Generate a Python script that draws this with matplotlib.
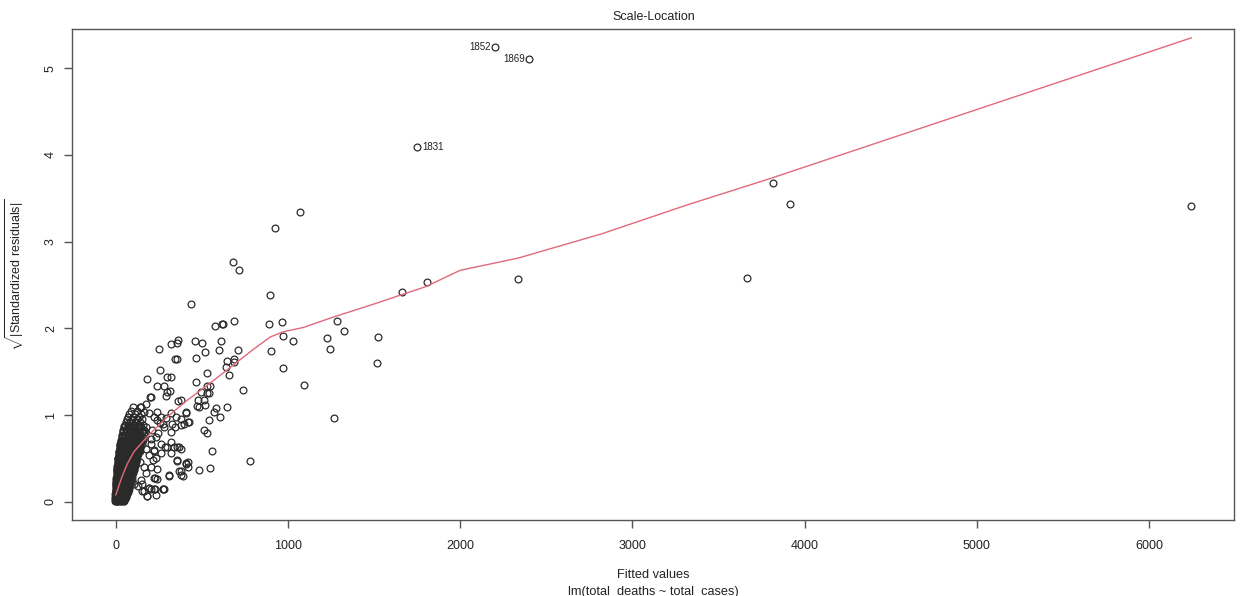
import matplotlib
matplotlib.use('Agg')
import matplotlib.pyplot as plt
import numpy as np

plt.rcParams['font.family'] = ['Liberation Sans', 'DejaVu Sans']
plt.rcParams['mathtext.fontset'] = 'custom'
plt.rcParams['mathtext.rm'] = 'Liberation Sans'
plt.rcParams['mathtext.it'] = 'Liberation Sans:italic'

# ---------------- data ----------------
# labelled outliers
label_ids = ['1852', '1869', '1831']
label_fitted = [2204, 2402, 1751]
label_sqrtres = [5.245, 5.106, 4.096]
label_side = ['left', 'left', 'right']

# scattered points (fitted value, sqrt|standardized residual|)
scatter_fitted = [
    6245, 3815, 3916, 3665, 2333, 1805, 1662,
    1520, 1518, 1326, 1287, 1224, 1243, 1266, 1094, 1069, 925, 967, 971,
    1029, 971, 896, 888, 900, 780,
    682, 717, 437, 574, 616, 622, 684, 250, 318, 353, 362, 457, 501, 613,
    601, 518, 707, 343, 353, 464, 688, 646, 684, 640, 659, 256, 299, 318,
    183, 530, 466, 239, 280, 549, 740, 197, 299, 293, 314, 495, 530, 540,
    530, 476, 511, 360, 376, 584, 646, 484, 568, 607, 410, 418, 376, 543,
    514, 530, 561, 376, 357, 353, 405, 418, 376, 389, 482, 545, 308,
    276, 222, 190, 179, 241, 222, 260, 283, 318, 222, 212, 244, 237, 260,
    276, 318, 347, 328, 395, 406, 520, 472, 376, 424, 341, 318, 280, 256,
    289, 222, 241, 193, 145, 173, 164, 202,
    183, 202, 227, 279, 154, 129, 106, 145, 173, 227, 202, 241, 164, 141,
    308, 366, 380, 410, 420, 353, 193, 222, 260, 231, 173, 202, 299, 337,
    366, 231, 202, 216, 154, 164, 231, 193, 273, 322,
]
scatter_sqrtres = [
    3.41, 3.68, 3.43, 2.58, 2.57, 2.53, 2.42,
    1.90, 1.60, 1.97, 2.09, 1.89, 1.76, 0.97, 1.35, 3.34, 3.16, 2.07, 1.91,
    1.86, 1.54, 2.39, 2.05, 1.74, 0.47,
    2.76, 2.67, 2.28, 2.03, 2.05, 2.05, 2.09, 1.76, 1.82, 1.83, 1.87, 1.86, 1.83, 1.85,
    1.75, 1.73, 1.75, 1.65, 1.65, 1.66, 1.65, 1.62, 1.61, 1.56, 1.46, 1.52, 1.44, 1.44,
    1.42, 1.48, 1.38, 1.34, 1.33, 1.34, 1.29, 1.21, 1.27, 1.22, 1.28, 1.27, 1.26, 1.25,
    1.33, 1.17, 1.17, 1.16, 1.17, 1.08, 1.09, 1.09, 1.03, 0.98, 1.02, 0.92, 0.96, 0.94,
    0.83, 0.79, 0.59, 0.61, 0.63, 0.48, 0.45, 0.46, 0.36, 0.30, 0.37, 0.39, 0.30,
    0.15, 0.15, 0.16, 0.07, 0.26, 0.27, 0.67, 0.63, 0.69, 0.59, 0.83, 0.79, 0.94, 0.98,
    0.90, 1.02, 0.98, 0.90, 0.90, 1.03, 1.12, 1.11, 0.89, 0.92, 0.86, 0.81, 0.86, 0.91,
    0.97, 0.98, 1.04, 1.02, 1.09, 1.13, 1.04, 1.21,
    0.07, 0.15, 0.15, 0.15, 0.13, 0.18, 0.21, 0.25, 0.33, 0.27, 0.40, 0.38, 0.40, 0.46,
    0.31, 0.36, 0.31, 0.44, 0.40, 0.47, 0.54, 0.60, 0.56, 0.50, 0.61, 0.67, 0.63, 0.63,
    0.63, 0.75, 0.73, 0.48, 0.20, 0.13, 0.08, 0.16, 0.15, 0.56,
]

# dense cluster near the origin: rows of fitted values at given sqrt-residual levels
cluster_levels = [
    0.01, 0.03, 0.05, 0.07, 0.09, 0.11, 0.13, 0.15, 0.17, 0.19, 0.21, 0.23,
    0.25, 0.27, 0.29, 0.31, 0.33, 0.35, 0.37, 0.39, 0.41, 0.43, 0.45, 0.47,
    0.49, 0.51, 0.53, 0.55, 0.57, 0.59, 0.61, 0.63, 0.65, 0.67, 0.69, 0.71,
    0.74, 0.77, 0.80, 0.83, 0.86, 0.89, 0.92, 0.95, 0.98, 1.01, 1.05, 1.09,
]
cluster_fitted = [
    [-3, 0, 4, 9, 15, 22, 30, 39, 48],
    [-2, 2, 7, 12, 19, 27, 36, 45, 54],
    [-3, 1, 5, 10, 17, 24, 33, 42, 52, 60],
    [-1, 3, 8, 14, 21, 29, 38, 48, 58],
    [-2, 2, 6, 12, 18, 26, 35, 45, 55, 65],
    [0, 4, 9, 15, 23, 31, 41, 51, 62, 71],
    [-1, 3, 7, 13, 20, 28, 38, 48, 59, 69],
    [1, 5, 10, 17, 25, 34, 44, 55, 66, 77],
    [0, 4, 9, 15, 22, 31, 41, 52, 63, 74],
    [2, 6, 12, 19, 27, 37, 47, 58, 70, 82],
    [1, 5, 10, 17, 25, 34, 45, 56, 68, 79],
    [2, 7, 13, 21, 30, 40, 51, 63, 75, 87],
    [3, 8, 15, 23, 32, 43, 55, 67, 80, 91],
    [2, 7, 13, 21, 30, 41, 53, 66, 78],
    [4, 9, 16, 25, 35, 46, 58, 71, 84, 96],
    [5, 11, 18, 27, 37, 49, 62, 75, 88],
    [5, 10, 17, 26, 36, 48, 61, 74, 87, 100],
    [6, 12, 20, 29, 40, 52, 65, 79, 93],
    [7, 13, 21, 31, 42, 55, 68, 82, 97, 106],
    [8, 15, 24, 34, 46, 59, 73, 88, 102],
    [9, 16, 25, 36, 48, 62, 76, 91, 106, 112],
    [10, 18, 28, 39, 52, 66, 81, 96, 110],
    [11, 19, 29, 41, 54, 68, 83, 99, 114],
    [12, 21, 32, 44, 58, 73, 89, 105, 118],
    [13, 22, 33, 46, 60, 75, 91, 108],
    [15, 25, 36, 49, 64, 80, 97, 113, 124],
    [16, 26, 38, 52, 67, 83, 100, 117],
    [18, 28, 41, 55, 70, 87, 105, 122, 131],
    [19, 30, 43, 58, 74, 91, 109, 126],
    [21, 32, 46, 61, 78, 96, 114, 132, 140],
    [22, 34, 48, 64, 81, 99, 118, 136],
    [24, 37, 52, 68, 86, 105, 125, 142],
    [25, 39, 54, 71, 89, 108, 128, 147],
    [27, 41, 57, 75, 94, 114, 134, 150],
    [29, 44, 61, 79, 99, 120, 140],
    [30, 46, 63, 82, 103, 125, 146, 158],
    [33, 50, 68, 88, 110, 133, 155],
    [36, 54, 74, 96, 119, 143, 165],
    [40, 59, 80, 103, 128, 153, 172],
    [43, 64, 87, 111, 137, 162],
    [47, 70, 95, 121, 148, 175],
    [52, 77, 104, 132, 160],
    [57, 84, 113, 143],
    [63, 92, 124, 152],
    [70, 102, 135],
    [78, 112, 148],
    [88, 125],
    [100, 140],
]
# second, interleaved set of cluster rows
cluster2_levels = [
    0.02, 0.06, 0.10, 0.14, 0.18, 0.22, 0.26, 0.30, 0.34, 0.38, 0.42,
    0.46, 0.50, 0.54, 0.58, 0.62, 0.66, 0.70, 0.76, 0.82, 0.88,
]
cluster2_fitted = [
    [1, 6, 11, 18, 26, 35, 44],
    [0, 4, 9, 16, 23, 32, 41, 51],
    [1, 5, 11, 17, 25, 34, 44, 55],
    [2, 6, 12, 19, 28, 37, 47, 58, 68],
    [1, 7, 13, 21, 30, 40, 51, 62, 73],
    [3, 8, 15, 23, 33, 44, 56, 68],
    [4, 10, 17, 26, 36, 48, 60, 73, 85],
    [5, 11, 19, 28, 39, 51, 64, 78, 90],
    [6, 13, 21, 31, 43, 56, 70, 84, 96],
    [8, 15, 24, 35, 47, 61, 75, 90, 103],
    [10, 18, 27, 39, 52, 66, 81, 97, 108],
    [12, 21, 31, 43, 57, 72, 88, 104, 116],
    [14, 24, 35, 48, 63, 79, 96, 112],
    [17, 27, 40, 54, 69, 86, 104, 121],
    [20, 31, 44, 59, 76, 94, 112, 130],
    [23, 35, 49, 65, 83, 102, 121, 139],
    [26, 40, 55, 72, 91, 111, 131],
    [29, 44, 60, 78, 98, 119, 141],
    [35, 53, 72, 93, 115, 139],
    [42, 62, 84, 108, 133, 158],
    [50, 74, 100, 128],
]

# loess smoother (red line)
smooth_x = [0, 20, 40, 67, 106, 164, 202, 299, 414, 568, 703, 800, 896, 971,
            1088, 1262, 1513, 1647, 1798, 2000, 2335, 2821, 3312, 3803, 6245]
smooth_y = [0.08, 0.20, 0.31, 0.44, 0.58, 0.71, 0.79, 0.98, 1.17, 1.40, 1.61,
            1.76, 1.90, 1.96, 2.01, 2.13, 2.29, 2.38, 2.48, 2.67, 2.81, 3.09,
            3.42, 3.73, 5.35]

x_ticks = [0, 1000, 2000, 3000, 4000, 5000, 6000]
y_ticks = [0, 1, 2, 3, 4, 5]

# ---------------- assemble ----------------
cx, cy = [], []
for levels, rows in ((cluster_levels, cluster_fitted), (cluster2_levels, cluster2_fitted)):
    for lev, xs in zip(levels, rows):
        cx.extend(xs)
        cy.extend([lev] * len(xs))

all_x = np.array(cx + scatter_fitted + label_fitted, dtype=float)
all_y = np.array(cy + scatter_sqrtres + label_sqrtres, dtype=float)

fig = plt.figure(figsize=(12.42, 5.96), dpi=100)
ax = fig.add_axes([0.0582, 0.1275, 0.9356, 0.8242])

edge = '#555555'
ax.plot(all_x, all_y, linestyle='none', marker='o', markersize=4.9,
        markerfacecolor='none', markeredgecolor='#2a2a2a', markeredgewidth=0.9)
ax.plot(smooth_x, smooth_y, color='#E06A7C', linewidth=1.0)

for lab, lx, ly, side in zip(label_ids, label_fitted, label_sqrtres, label_side):
    off = -3.5 if side == 'left' else 3.5
    ax.annotate(lab, (lx, ly), xytext=(off, 0), textcoords='offset points',
                ha='right' if side == 'left' else 'left', va='center',
                fontsize=7, color='#222222')

# R-style limits: extend range by 4%
xr = all_x.max() - all_x.min()
ax.set_xlim(all_x.min() - 0.04 * xr, all_x.max() + 0.04 * xr)
ymax = all_y.max()
ax.set_ylim(-0.04 * ymax, ymax * 1.04)

ax.set_xticks(x_ticks)
ax.set_yticks(y_ticks)
ax.set_xticklabels([str(t) for t in x_ticks])
ax.set_yticklabels([str(t) for t in y_ticks])
ax.tick_params(axis='both', direction='out', length=5.8, width=1.0,
               color=edge, labelsize=9, labelcolor='#222222')
ax.tick_params(axis='x', pad=8.5)
ax.tick_params(axis='y', pad=5.3, labelrotation=90)
for t in ax.get_yticklabels():
    t.set_va('center')

for s in ax.spines.values():
    s.set_color(edge)
    s.set_linewidth(1.0)

fig.text(0.526, 1 - 17 / 596, 'Scale-Location', ha='center', va='center',
         fontsize=9, color='#222222')
fig.text(0.526, 1 - 575 / 596, 'Fitted values', ha='center', va='center',
         fontsize=9.2, color='#222222')
fig.text(0.526, 1 - 592 / 596, 'lm(total_deaths ~ total_cases)', ha='center',
         va='center', fontsize=9.2, color='#222222')
fig.text(15 / 1242, 1 - 275 / 596,
         r'$\sqrt{|\mathrm{Standardized\ residuals}|}$', rotation=90,
         ha='center', va='center', fontsize=9, color='#222222')

fig.savefig('out.png', dpi=100, facecolor='white')
